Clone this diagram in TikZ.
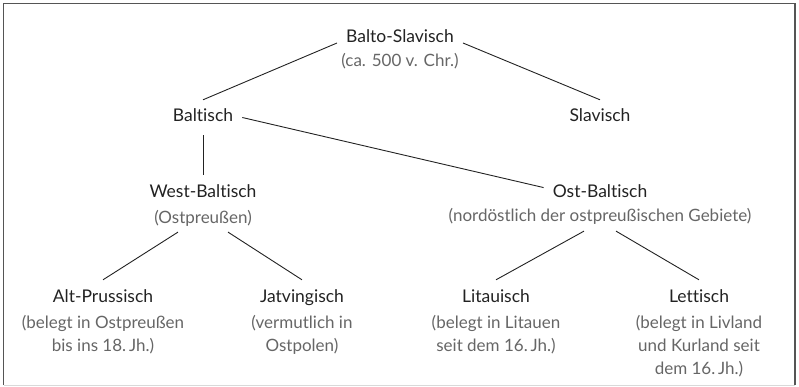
\documentclass[tikz,border=0pt]{standalone}
\usepackage{fontspec}
\setmainfont{Lato}[Ligatures=NoCommon]
\usepackage{tikz}
\usetikzlibrary{positioning}

\definecolor{framegray}{HTML}{555555}
\definecolor{inkdark}{HTML}{222222}
\definecolor{inksub}{HTML}{666666}

\tikzset{
  lang/.style={font=\fontsize{17.5}{20}\selectfont, text=inkdark, inner sep=9pt,
    text height=13pt, text depth=4pt},
  note/.style={font=\fontsize{17}{23}\selectfont, text=inksub, inner sep=6pt,
    align=center},
  branch/.style={draw=inkdark, line width=0.9pt}
}

\begin{document}
\begin{tikzpicture}[x=1pt, y=-1pt]
  \useasboundingbox (0,0) rectangle (799,387);
  % frame
  \draw[framegray, line width=1.8pt] (3.5,385) -- (3.5,3.5) -- (795,3.5) -- (795,385);
  \draw[gray!30, line width=1pt] (3.5,385) -- (795,385);

  % languages (notes sit on the baseline of their last line)
  \node[lang, anchor=base] (baltoslav) at (400,43) {Balto-Slavisch};
  \node[note, anchor=base] (baltoslavnote) at (400,67) {(ca. 500 v. Chr.)};
  \node[lang, anchor=base] (baltisch) at (203,122) {Baltisch};
  \node[lang, anchor=base] (slavisch) at (600,122) {Slavisch};
  \node[lang, anchor=base] (westbalt) at (203,197) {West-Baltisch};
  \node[note, anchor=base] (westnote) at (203,223) {(Ostpreußen)};
  \node[lang, anchor=base] (ostbalt) at (600,197) {Ost-Baltisch};
  \node[note, anchor=base] (ostnote) at (600,222) {(nordöstlich der ostpreußischen Gebiete)};
  \node[lang, anchor=base] (altpr) at (103,302) {Alt-Prussisch};
  \node[note, anchor=base] (altprnote) at (103,351) {(belegt in Ostpreußen\\bis ins 18.\,Jh.)};
  \node[lang, anchor=base] (jatv) at (302,302) {Jatvingisch};
  \node[note, anchor=base] (jatvnote) at (302,351) {(vermutlich in\\Ostpolen)};
  \node[lang, anchor=base] (litau) at (496,302) {Litauisch};
  \node[note, anchor=base] (litaunote) at (496,351) {(belegt in Litauen\\seit dem 16.\,Jh.)};
  \node[lang, anchor=base] (lett) at (699,302) {Lettisch};
  \node[note, anchor=base] (lettnote) at (699,374) {(belegt in Livland\\und Kurland seit\\dem 16.\,Jh.)};

  % branches
  \draw[branch] (baltoslav.base west) -- (baltisch.north);
  \draw[branch] (baltoslav.base east) -- (slavisch.north);
  \draw[branch] (baltisch.south) -- (westbalt.north);
  \draw[branch] (baltisch.east) -- (ostbalt.175);
  \draw[branch] ([xshift=-25pt]westnote.south) -- (altpr.north);
  \draw[branch] ([xshift=25pt]westnote.south) -- (jatv.north);
  \draw[branch] ([xshift=-16pt]ostnote.south) -- (litau.north);
  \draw[branch] ([xshift=16pt]ostnote.south) -- (lett.north);
\end{tikzpicture}
\end{document}
